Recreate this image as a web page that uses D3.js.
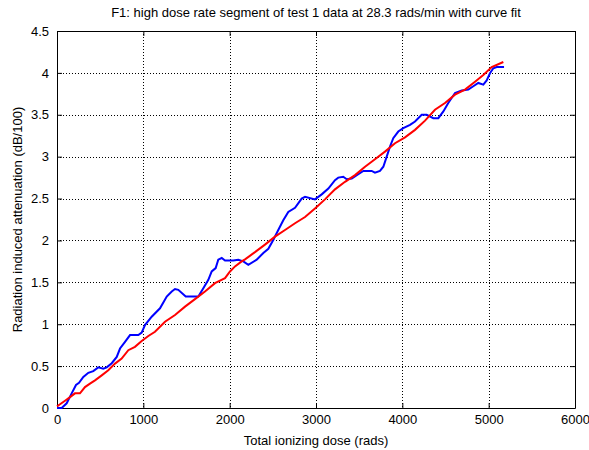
<!DOCTYPE html>
<html>
<head>
<meta charset="utf-8">
<script src="https://cdn.jsdelivr.net/npm/d3@7"></script>
<style>
  body { margin: 0; background: #fff; }
  text { font-family: "Liberation Sans", Arial, sans-serif; }
</style>
</head>
<body>
<div id="chart"></div>
<script>
// measured attenuation (blue), [dose rads, dB/100]
const measured = [
  [0, 0], [54, 0.0], [112, 0.056], [170, 0.175], [220, 0.275], [255, 0.30],
  [305, 0.37], [363, 0.42], [420, 0.44], [478, 0.485], [536, 0.47], [576, 0.485],
  [634, 0.535], [692, 0.61], [730, 0.71], [788, 0.79], [846, 0.87], [942, 0.87],
  [981, 0.90], [1019, 0.99], [1097, 1.09], [1193, 1.19], [1271, 1.33], [1329, 1.39],
  [1367, 1.42], [1405, 1.41], [1491, 1.33], [1637, 1.33], [1695, 1.43], [1753, 1.53],
  [1792, 1.63], [1838, 1.67], [1868, 1.77], [1908, 1.79], [1946, 1.76], [2042, 1.76],
  [2100, 1.77], [2158, 1.75], [2216, 1.71], [2313, 1.77], [2390, 1.85], [2448, 1.90],
  [2505, 2.005], [2563, 2.125], [2621, 2.24], [2679, 2.34], [2757, 2.39], [2834, 2.50],
  [2873, 2.52], [2988, 2.49], [3066, 2.55], [3143, 2.62], [3220, 2.72], [3258, 2.75],
  [3316, 2.76], [3356, 2.73], [3414, 2.74], [3490, 2.79], [3548, 2.83], [3645, 2.83],
  [3683, 2.81], [3741, 2.83], [3780, 2.88], [3819, 3.00], [3857, 3.12], [3895, 3.22],
  [3953, 3.30], [4011, 3.34], [4089, 3.38], [4147, 3.42], [4224, 3.50], [4282, 3.50],
  [4359, 3.46], [4417, 3.46], [4475, 3.54], [4532, 3.64], [4610, 3.76], [4688, 3.79],
  [4764, 3.80], [4822, 3.84], [4880, 3.88], [4938, 3.86], [4977, 3.91], [5015, 3.995],
  [5054, 4.055], [5093, 4.07], [5178, 4.07]
];

// curve fit (red)
const fitted = [
  [0, 0.02], [35, 0.045], [93, 0.087], [151, 0.13], [208, 0.175], [266, 0.175],
  [324, 0.25], [382, 0.29], [440, 0.33], [518, 0.39], [594, 0.45], [672, 0.53],
  [749, 0.59], [826, 0.69], [903, 0.73], [981, 0.80], [1058, 0.86], [1135, 0.91],
  [1251, 1.03], [1367, 1.11], [1483, 1.21], [1598, 1.30], [1714, 1.39], [1830, 1.49],
  [1946, 1.55], [2004, 1.63], [2062, 1.69], [2139, 1.75], [2178, 1.775], [2293, 1.86],
  [2409, 1.95], [2525, 2.045], [2641, 2.125], [2757, 2.205], [2873, 2.28], [2988, 2.38],
  [3104, 2.49], [3220, 2.61], [3336, 2.70], [3452, 2.78], [3568, 2.88], [3683, 2.97],
  [3799, 3.06], [3915, 3.16], [4031, 3.23], [4147, 3.32], [4263, 3.43], [4378, 3.56],
  [4494, 3.64], [4610, 3.74], [4726, 3.80], [4842, 3.895], [4938, 3.975], [5035, 4.07],
  [5170, 4.13]
];

const xTicks = [0, 1000, 2000, 3000, 4000, 5000, 6000];
const yTicks = [0, 0.5, 1, 1.5, 2, 2.5, 3, 3.5, 4, 4.5];

const titleText = "F1: high dose rate segment of test 1 data at 28.3 rads/min with curve fit";
const xLabel = "Total ionizing dose (rads)";
const yLabel = "Radiation induced attenuation (dB/100)";

// spacing
const width = 589, height = 450;
const margin = ({top: 31, right: 14, bottom: 42, left: 57});
const plotW = width - margin.left - margin.right;
const plotH = height - margin.top - margin.bottom;
const fontSize = "13px";

const svg = d3.select("#chart").append("svg")
  .attr("width", width)
  .attr("height", height);

const xScale = d3.scaleLinear().domain([0, 6000]).range([margin.left, margin.left + plotW]);
const yScale = d3.scaleLinear().domain([0, 4.5]).range([margin.top + plotH, margin.top]);

// grid lines (dotted)
const grid = svg.append("g").attr("shape-rendering", "crispEdges");
grid.selectAll(".vg").data(xTicks.slice(1, -1)).join("line")
  .attr("x1", d => Math.round(xScale(d)) + 0.5).attr("x2", d => Math.round(xScale(d)) + 0.5)
  .attr("y1", margin.top).attr("y2", margin.top + plotH)
  .attr("stroke", "#000").attr("stroke-width", 1).attr("stroke-dasharray", "1,2");
grid.selectAll(".hg").data(yTicks.slice(1, -1)).join("line")
  .attr("y1", d => Math.round(yScale(d)) + 0.5).attr("y2", d => Math.round(yScale(d)) + 0.5)
  .attr("x1", margin.left).attr("x2", margin.left + plotW)
  .attr("stroke", "#000").attr("stroke-width", 1).attr("stroke-dasharray", "1,2");

// axes with inward ticks (box style)
const xAxisB = d3.axisBottom(xScale).tickValues(xTicks).tickSizeInner(-5).tickSizeOuter(0).tickPadding(7)
  .tickFormat(d3.format("d"));
const xAxisT = d3.axisTop(xScale).tickValues(xTicks).tickSizeInner(-5).tickSizeOuter(0).tickFormat("");
const yAxisL = d3.axisLeft(yScale).tickValues(yTicks).tickSizeInner(-5).tickSizeOuter(0).tickPadding(8)
  .tickFormat(d3.format("~g"));
const yAxisR = d3.axisRight(yScale).tickValues(yTicks).tickSizeInner(-5).tickSizeOuter(0).tickFormat("");

function styleAxis(g) {
  g.select(".domain").attr("stroke", "#000").attr("stroke-width", 1);
  g.selectAll(".tick line").attr("stroke", "#000");
  g.selectAll(".tick text").attr("fill", "#000")
    .style("font-size", fontSize).style("font-family", "'Liberation Sans', Arial, sans-serif");
}

svg.append("g").attr("transform", `translate(0,${margin.top + plotH})`).call(xAxisB).call(styleAxis);
svg.append("g").attr("transform", `translate(0,${margin.top})`).call(xAxisT).call(styleAxis);
svg.append("g").attr("transform", `translate(${margin.left},0)`).call(yAxisL).call(styleAxis);
svg.append("g").attr("transform", `translate(${margin.left + plotW},0)`).call(yAxisR).call(styleAxis);

// lines
const line = d3.line()
  .x(d => xScale(d[0]))
  .y(d => yScale(d[1]));

svg.append("path")
  .attr("d", line(measured))
  .attr("stroke", "#0000ff")
  .attr("stroke-width", 2)
  .attr("fill", "none");

svg.append("path")
  .attr("d", line(fitted))
  .attr("stroke", "#ff0000")
  .attr("stroke-width", 2)
  .attr("fill", "none");

// labels
svg.append("text")
  .attr("x", margin.left + plotW / 2).attr("y", 17)
  .attr("text-anchor", "middle").style("font-size", fontSize)
  .text(titleText);

svg.append("text")
  .attr("x", margin.left + plotW / 2).attr("y", 445)
  .attr("text-anchor", "middle").style("font-size", fontSize)
  .text(xLabel);

svg.append("text")
  .attr("transform", `translate(22,${margin.top + plotH / 2}) rotate(-90)`)
  .attr("text-anchor", "middle").style("font-size", fontSize)
  .text(yLabel);
</script>
</body>
</html>
